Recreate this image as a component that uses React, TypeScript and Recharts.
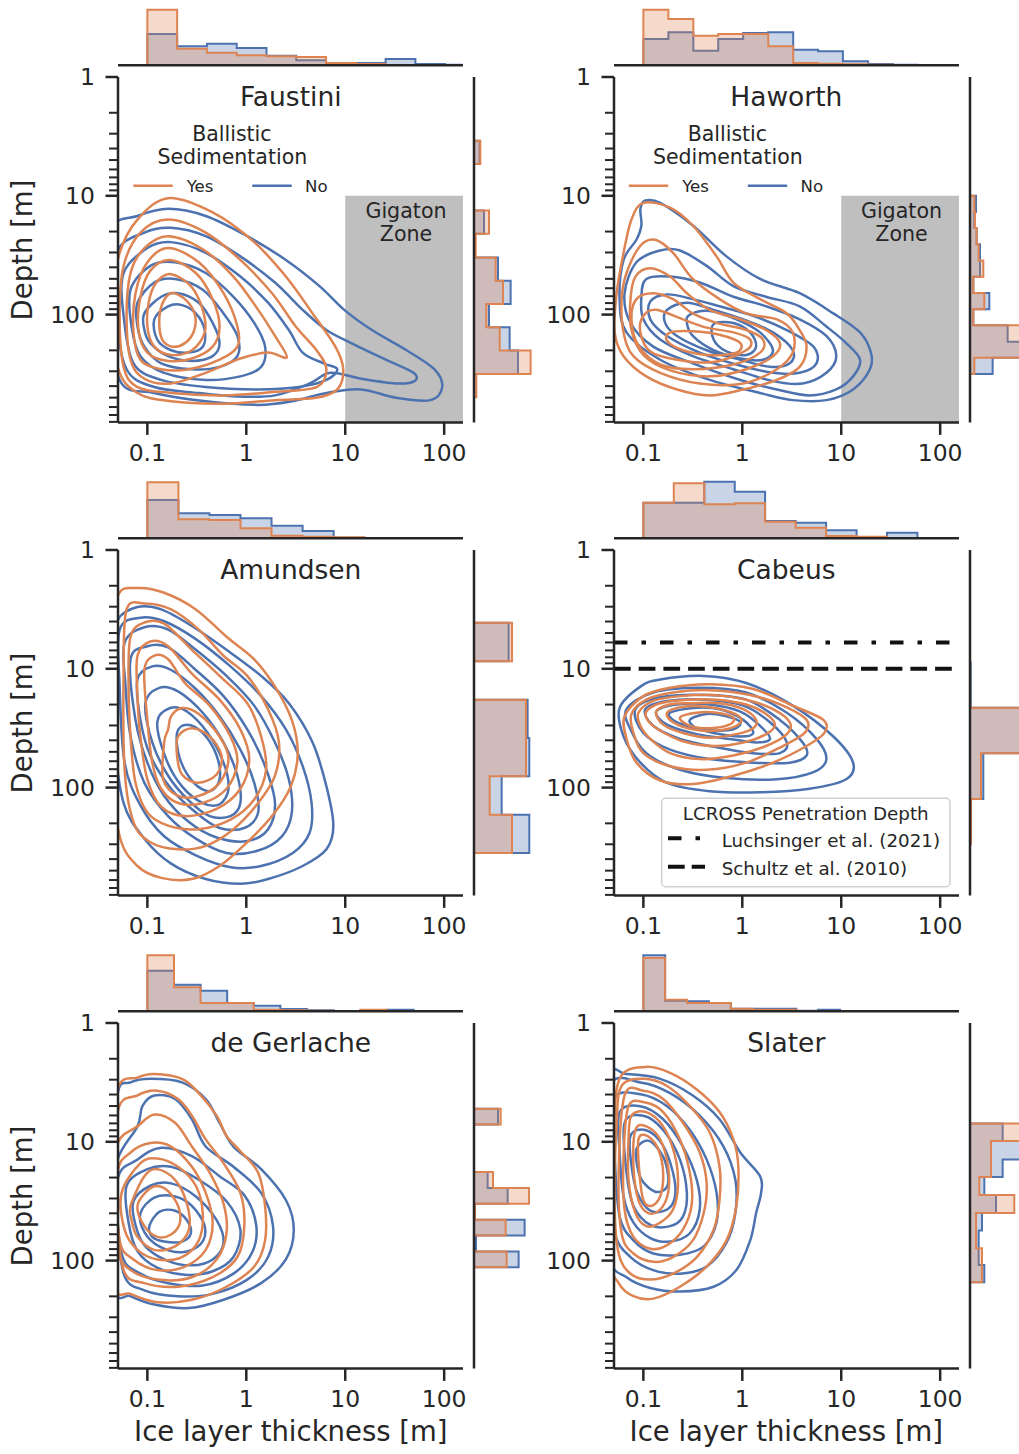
import React from 'react';
import { ComposedChart, Line, Area, XAxis, YAxis, ReferenceArea, ReferenceLine } from 'recharts';

const ORANGE = '#DD8452';
const BLUE = '#4C72B0';
const INK = '#262626';
const FONT = "'DejaVu Sans', sans-serif";

// ---------- axes ----------
const X_DOMAIN = [0.0505, 155];
const Y_DOMAIN = [1, 808];
const X_TICKS = [0.1, 1, 10, 100];
const Y_TICKS = [1, 2, 3, 4, 5, 6, 7, 8, 9, 10, 20, 30, 40, 50, 60, 70, 80, 90, 100, 200, 300, 400, 500, 600, 700, 800];
const Y_MAJOR = [1, 10, 100];
const HIST_MAX = 175;

const CRATERS = ['Faustini', 'Haworth', 'Amundsen', 'Cabeus', 'de Gerlache', 'Slater'];

// ---------- marginal histograms (bin edges in m, heights in relative counts) ----------
const FAU_TOP_EDGES = [0.1, 0.2, 0.4, 0.8, 1.6, 3.2, 6.4, 12.8, 25.6, 51.2, 102, 205];
const FAU_TOP_YES = [167, 50, 38, 30, 27, 25, 7, 4, 0, 0, 0];
const FAU_TOP_NO = [94, 57, 65, 52, 29, 15, 5, 7, 19, 4, 2];
const FAU_RIGHT_EDGES = [3.44, 5.4, 8.49, 13.3, 20.9, 33.0, 51.8, 81.3, 128, 201, 316, 496];
const FAU_RIGHT_YES = [19, 0, 0, 45, 5, 65, 87, 37, 77, 170, 7];
const FAU_RIGHT_NO = [17, 0, 0, 30, 0, 72, 110, 45, 107, 132, 0];

const HAW_TOP_EDGES = [0.1, 0.179, 0.32, 0.571, 1.02, 1.83, 3.27, 5.84, 10.4, 18.7, 33.4, 59.7];
const HAW_TOP_YES = [167, 139, 89, 94, 94, 57, 7, 5, 3, 2, 0];
const HAW_TOP_NO = [79, 99, 44, 79, 97, 99, 47, 42, 12, 4, 2];
const HAW_RIGHT_EDGES = [10, 13.7, 18.7, 25.6, 35.1, 48.0, 65.8, 90.1, 123, 169, 231, 316];
const HAW_RIGHT_YES = [13, 15, 20, 26, 40, 10, 43, 10, 170, 170, 13];
const HAW_RIGHT_NO = [18, 13, 20, 30, 30, 10, 58, 10, 113, 170, 68];

const AMU_TOP_EDGES = [0.1, 0.206, 0.424, 0.874, 1.8, 3.71, 7.64, 15.7, 32.4];
const AMU_TOP_YES = [168, 57, 55, 30, 8, 5, 3, 0];
const AMU_TOP_NO = [115, 75, 70, 60, 38, 22, 2, 1];
const AMU_RIGHT_EDGES = [4.1, 8.63, 18.2, 38.2, 80.4, 169, 356];
const AMU_RIGHT_YES = [114, 0, 156, 156, 47, 114];
const AMU_RIGHT_NO = [104, 0, 161, 166, 83, 166];

const CAB_TOP_EDGES = [0.1, 0.203, 0.413, 0.839, 1.7, 3.46, 7.03, 14.3, 29, 58.9];
const CAB_TOP_YES = [107, 165, 102, 105, 50, 32, 7, 5, 0];
const CAB_TOP_NO = [107, 107, 170, 140, 52, 47, 24, 4, 17];
const CAB_RIGHT_EDGES = [8.79, 21.3, 51.4, 125, 302];
const CAB_RIGHT_YES = [0, 170, 33, 3];
const CAB_RIGHT_NO = [2, 168, 40, 0];

const GER_TOP_EDGES = [0.1, 0.186, 0.345, 0.641, 1.19, 2.21, 4.12, 7.65, 14.2, 26.4, 49.1];
const GER_TOP_YES = [168, 72, 25, 25, 5, 3, 2, 1, 5, 1];
const GER_TOP_NO = [122, 80, 62, 25, 17, 7, 3, 1, 1, 5];
const GER_RIGHT_EDGES = [5.26, 7.16, 9.73, 13.2, 18.0, 24.5, 33.3, 45.3, 61.5, 83.7, 114];
const GER_RIGHT_YES = [80, 0, 0, 0, 57, 165, 3, 95, 0, 98];
const GER_RIGHT_NO = [72, 0, 0, 0, 41, 101, 0, 152, 6, 134];

const SLA_TOP_EDGES = [0.1, 0.166, 0.277, 0.46, 0.765, 1.27, 2.12, 3.52, 5.85, 9.73];
const SLA_TOP_YES = [160, 35, 25, 25, 8, 5, 5, 1, 1];
const SLA_TOP_NO = [168, 32, 30, 25, 8, 8, 8, 2, 5];
const SLA_RIGHT_EDGES = [7.0, 9.86, 14.1, 19.8, 28.1, 39.8, 55.7, 78.7, 109, 152];
const SLA_RIGHT_YES = [170, 63, 63, 28, 133, 18, 18, 36, 36];
const SLA_RIGHT_NO = [98, 170, 98, 43, 78, 36, 26, 26, 43];

// ---------- KDE contour vertices: [log10 thickness (m), log10 depth (m)] ----------
const FAU_YES = [
  [[-0.79,1.02],[-0.34,1.14],[0.08,1.39],[0.40,1.68],[0.67,1.99],[0.90,2.27],[0.98,2.46],[0.92,2.63],[0.71,2.70],[0.29,2.72],[-0.23,2.75],[-0.76,2.73],[-1.10,2.66],[-1.30,2.44],[-1.35,1.87],[-1.28,1.48],[-1.10,1.20]],
  [[-0.79,1.20],[-0.41,1.31],[-0.06,1.54],[0.26,1.82],[0.50,2.10],[0.71,2.30],[0.81,2.46],[0.71,2.61],[0.29,2.65],[-0.23,2.68],[-0.76,2.66],[-1.10,2.61],[-1.24,2.44],[-1.28,2.01],[-1.24,1.59],[-1.07,1.31]],
  [[-0.79,1.34],[-0.44,1.45],[-0.13,1.68],[0.12,1.96],[0.29,2.18],[0.41,2.36],[0.22,2.32],[-0.06,2.37],[-0.41,2.49],[-0.76,2.58],[-1.03,2.54],[-1.17,2.38],[-1.21,2.01],[-1.17,1.65],[-1.03,1.44]],
  [[-0.79,1.44],[-0.48,1.56],[-0.23,1.82],[-0.09,2.10],[-0.09,2.27],[-0.27,2.38],[-0.58,2.46],[-0.86,2.46],[-1.07,2.38],[-1.14,2.15],[-1.12,1.82],[-1.00,1.56]],
  [[-0.77,1.54],[-0.51,1.65],[-0.34,1.87],[-0.27,2.10],[-0.34,2.27],[-0.55,2.37],[-0.79,2.39],[-1.00,2.32],[-1.09,2.13],[-1.07,1.85],[-0.97,1.63]],
  [[-0.76,1.66],[-0.56,1.76],[-0.44,1.96],[-0.42,2.15],[-0.55,2.30],[-0.76,2.34],[-0.93,2.27],[-1.00,2.10],[-0.98,1.87],[-0.90,1.72]],
  [[-0.76,1.82],[-0.62,1.87],[-0.52,2.00],[-0.53,2.14],[-0.62,2.24],[-0.75,2.27],[-0.85,2.21],[-0.88,2.06],[-0.85,1.91]],
];
const FAU_NO = [
  [[-1.35,1.28],[-1.10,1.17],[-0.79,1.11],[-0.41,1.17],[0.01,1.34],[0.40,1.54],[0.74,1.76],[0.99,1.96],[1.27,2.13],[1.62,2.30],[1.90,2.46],[1.98,2.61],[1.86,2.72],[1.51,2.70],[1.16,2.63],[0.81,2.66],[0.46,2.73],[0.12,2.76],[-0.41,2.73],[-0.93,2.66],[-1.28,2.55],[-1.38,1.87]],
  [[-1.31,1.48],[-1.03,1.31],[-0.76,1.27],[-0.41,1.34],[-0.06,1.51],[0.29,1.73],[0.57,1.96],[0.81,2.13],[1.06,2.24],[1.41,2.38],[1.69,2.49],[1.70,2.56],[1.51,2.58],[1.16,2.54],[0.85,2.49],[0.64,2.58],[0.29,2.68],[-0.06,2.69],[-0.48,2.66],[-0.93,2.61],[-1.21,2.46],[-1.31,2.01]],
  [[-1.24,1.65],[-1.00,1.44],[-0.76,1.39],[-0.41,1.48],[-0.06,1.68],[0.22,1.90],[0.43,2.13],[0.57,2.32],[0.78,2.41],[0.92,2.46],[0.81,2.55],[0.53,2.61],[0.12,2.63],[-0.41,2.61],[-0.86,2.55],[-1.14,2.41],[-1.24,2.01]],
  [[-1.17,1.79],[-0.97,1.59],[-0.72,1.56],[-0.41,1.65],[-0.13,1.85],[0.08,2.07],[0.19,2.27],[0.15,2.44],[-0.06,2.52],[-0.41,2.55],[-0.83,2.49],[-1.07,2.35],[-1.16,2.10]],
  [[-1.10,1.90],[-0.93,1.73],[-0.72,1.70],[-0.44,1.79],[-0.23,1.99],[-0.09,2.18],[-0.09,2.35],[-0.27,2.44],[-0.55,2.46],[-0.86,2.41],[-1.03,2.27],[-1.10,2.10]],
  [[-1.03,1.99],[-0.86,1.85],[-0.69,1.82],[-0.48,1.90],[-0.34,2.07],[-0.27,2.24],[-0.34,2.35],[-0.55,2.39],[-0.79,2.35],[-0.97,2.24],[-1.03,2.13]],
  [[-0.93,2.04],[-0.79,1.93],[-0.65,1.92],[-0.51,1.99],[-0.42,2.13],[-0.44,2.27],[-0.58,2.32],[-0.76,2.30],[-0.90,2.21]],
];

const HAW_YES = [
  [[-1.00,1.06],[-0.73,1.10],[-0.50,1.25],[-0.26,1.51],[-0.09,1.73],[0.18,1.87],[0.45,1.99],[0.58,2.13],[0.65,2.27],[0.58,2.44],[0.35,2.55],[0.01,2.63],[-0.33,2.68],[-0.66,2.63],[-0.97,2.52],[-1.20,2.35],[-1.29,2.15],[-1.27,1.82],[-1.20,1.48],[-1.12,1.20]],
  [[-0.88,1.37],[-0.70,1.48],[-0.50,1.70],[-0.23,1.87],[0.04,1.99],[0.35,2.04],[0.51,2.15],[0.51,2.32],[0.35,2.46],[0.01,2.58],[-0.43,2.58],[-0.83,2.49],[-1.10,2.35],[-1.20,2.15],[-1.22,1.87],[-1.17,1.65],[-1.03,1.42]],
  [[-0.93,1.61],[-0.73,1.68],[-0.56,1.82],[-0.33,1.96],[-0.02,2.04],[0.24,2.13],[0.38,2.24],[0.31,2.35],[0.04,2.46],[-0.33,2.52],[-0.73,2.47],[-1.00,2.34],[-1.12,2.13],[-1.13,1.87],[-1.08,1.68]],
  [[-0.90,1.82],[-0.70,1.87],[-0.50,1.99],[-0.26,2.07],[0.04,2.13],[0.21,2.21],[0.18,2.32],[-0.09,2.42],[-0.50,2.46],[-0.83,2.42],[-1.05,2.26],[-1.12,2.04],[-1.07,1.87]],
  [[-0.87,1.96],[-0.60,2.04],[-0.36,2.11],[-0.09,2.15],[0.08,2.21],[0.04,2.30],[-0.29,2.40],[-0.66,2.38],[-0.93,2.31],[-1.03,2.15],[-1.00,2.01]],
  [[-0.73,2.15],[-0.50,2.14],[-0.23,2.17],[-0.02,2.24],[-0.06,2.32],[-0.33,2.34],[-0.60,2.30],[-0.76,2.22]],
];
const HAW_NO = [
  [[-1.03,1.11],[-0.98,1.04],[-0.83,1.06],[-0.50,1.25],[-0.16,1.51],[0.18,1.70],[0.58,1.82],[0.92,1.99],[1.19,2.15],[1.30,2.32],[1.29,2.46],[1.12,2.63],[0.85,2.72],[0.51,2.72],[0.18,2.66],[-0.33,2.55],[-0.83,2.38],[-1.17,2.15],[-1.24,1.87],[-1.20,1.54],[-1.07,1.37],[-1.02,1.25]],
  [[-1.07,1.56],[-0.83,1.46],[-0.63,1.46],[-0.36,1.59],[-0.09,1.76],[0.24,1.85],[0.58,1.93],[0.85,2.10],[1.05,2.24],[1.19,2.38],[1.12,2.52],[0.95,2.63],[0.68,2.68],[0.35,2.63],[-0.02,2.55],[-0.50,2.41],[-0.90,2.27],[-1.13,2.07],[-1.19,1.82]],
  [[-0.97,1.70],[-0.73,1.68],[-0.43,1.73],[-0.09,1.85],[0.24,1.93],[0.58,2.04],[0.85,2.18],[0.95,2.35],[0.85,2.49],[0.61,2.58],[0.31,2.56],[-0.09,2.46],[-0.50,2.35],[-0.83,2.21],[-1.00,2.04],[-1.02,1.85]],
  [[-0.93,1.89],[-0.76,1.83],[-0.50,1.87],[-0.23,1.93],[0.11,2.01],[0.45,2.13],[0.72,2.27],[0.75,2.41],[0.58,2.49],[0.31,2.49],[-0.06,2.42],[-0.43,2.32],[-0.76,2.18],[-0.93,2.04]],
  [[-0.76,1.96],[-0.56,1.90],[-0.29,1.96],[0.01,2.04],[0.31,2.15],[0.51,2.30],[0.48,2.41],[0.28,2.44],[-0.02,2.38],[-0.36,2.30],[-0.66,2.18],[-0.78,2.07]],
  [[-0.53,2.00],[-0.33,1.97],[-0.06,2.04],[0.18,2.15],[0.31,2.30],[0.21,2.38],[-0.02,2.37],[-0.29,2.30],[-0.50,2.18],[-0.56,2.07]],
  [[-0.29,2.08],[-0.09,2.07],[0.08,2.15],[0.14,2.27],[0.04,2.34],[-0.16,2.31],[-0.29,2.21]],
];

const AMU_YES = [
  [[-1.30,0.39],[-1.10,0.32],[-0.83,0.36],[-0.51,0.50],[-0.20,0.73],[0.08,0.92],[0.29,1.15],[0.46,1.43],[0.52,1.71],[0.45,1.99],[0.26,2.24],[0.01,2.46],[-0.27,2.66],[-0.55,2.77],[-0.86,2.76],[-1.10,2.66],[-1.28,2.41],[-1.36,1.80],[-1.36,0.90]],
  [[-1.24,1.01],[-1.21,0.50],[-1.03,0.45],[-0.76,0.50],[-0.48,0.67],[-0.23,0.89],[0.01,1.06],[0.22,1.34],[0.33,1.62],[0.29,1.90],[0.12,2.13],[-0.13,2.35],[-0.41,2.49],[-0.69,2.52],[-0.97,2.46],[-1.14,2.29],[-1.23,1.85]],
  [[-1.17,0.73],[-1.03,0.61],[-0.83,0.62],[-0.55,0.84],[-0.27,1.06],[0.01,1.29],[0.15,1.57],[0.20,1.85],[0.08,2.10],[-0.16,2.27],[-0.48,2.35],[-0.79,2.32],[-1.00,2.21],[-1.12,1.96],[-1.17,1.57],[-1.19,1.12]],
  [[-1.10,0.89],[-0.97,0.77],[-0.79,0.81],[-0.55,1.04],[-0.27,1.26],[-0.06,1.51],[0.03,1.76],[-0.06,2.01],[-0.30,2.18],[-0.62,2.24],[-0.86,2.16],[-1.00,1.93],[-1.07,1.57],[-1.10,1.23]],
  [[-1.03,1.01],[-0.93,0.89],[-0.79,0.92],[-0.62,1.12],[-0.37,1.31],[-0.16,1.57],[-0.09,1.79],[-0.20,2.01],[-0.44,2.13],[-0.69,2.13],[-0.86,2.01],[-0.95,1.79],[-1.00,1.43]],
  [[-0.79,1.51],[-0.76,1.40],[-0.65,1.33],[-0.48,1.38],[-0.27,1.57],[-0.18,1.76],[-0.27,1.96],[-0.48,2.07],[-0.69,2.07],[-0.84,1.93],[-0.83,1.62]],
  [[-0.69,1.57],[-0.55,1.50],[-0.37,1.57],[-0.25,1.73],[-0.30,1.89],[-0.49,1.96],[-0.65,1.89],[-0.70,1.73]],
];
const AMU_NO = [
  [[-1.30,0.59],[-1.10,0.48],[-0.86,0.50],[-0.55,0.64],[-0.20,0.84],[0.15,1.06],[0.43,1.29],[0.67,1.62],[0.81,1.99],[0.88,2.32],[0.81,2.52],[0.57,2.66],[0.22,2.77],[-0.06,2.81],[-0.41,2.77],[-0.76,2.64],[-1.03,2.43],[-1.24,2.13],[-1.33,1.57],[-1.33,0.87]],
  [[-1.28,0.67],[-1.07,0.57],[-0.83,0.60],[-0.51,0.75],[-0.16,0.98],[0.15,1.23],[0.40,1.51],[0.57,1.82],[0.66,2.13],[0.64,2.38],[0.47,2.55],[0.15,2.66],[-0.16,2.67],[-0.51,2.57],[-0.83,2.41],[-1.07,2.15],[-1.23,1.79],[-1.28,1.15]],
  [[-1.23,0.78],[-1.03,0.65],[-0.79,0.67],[-0.51,0.84],[-0.20,1.06],[0.08,1.31],[0.29,1.62],[0.43,1.93],[0.46,2.21],[0.36,2.41],[0.12,2.53],[-0.20,2.55],[-0.51,2.43],[-0.79,2.24],[-1.03,1.96],[-1.17,1.57],[-1.22,1.15]],
  [[-1.17,0.92],[-1.00,0.81],[-0.79,0.82],[-0.51,1.01],[-0.23,1.23],[0.01,1.51],[0.19,1.82],[0.29,2.13],[0.22,2.35],[0.01,2.45],[-0.30,2.42],[-0.58,2.29],[-0.83,2.07],[-1.00,1.79],[-1.12,1.43]],
  [[-1.10,1.09],[-0.95,0.98],[-0.76,1.01],[-0.51,1.17],[-0.27,1.40],[-0.06,1.68],[0.08,1.96],[0.12,2.21],[-0.02,2.34],[-0.27,2.34],[-0.51,2.21],[-0.76,2.01],[-0.97,1.73],[-1.07,1.43]],
  [[-1.02,1.29],[-0.88,1.16],[-0.69,1.19],[-0.44,1.37],[-0.23,1.62],[-0.09,1.90],[-0.06,2.13],[-0.16,2.24],[-0.37,2.24],[-0.58,2.11],[-0.79,1.90],[-0.95,1.62]],
  [[-0.90,1.45],[-0.77,1.33],[-0.60,1.36],[-0.39,1.54],[-0.23,1.79],[-0.18,2.01],[-0.27,2.14],[-0.44,2.13],[-0.65,1.99],[-0.81,1.76]],
  [[-0.70,1.54],[-0.60,1.47],[-0.44,1.54],[-0.30,1.73],[-0.27,1.93],[-0.37,2.03],[-0.53,1.96],[-0.67,1.76]],
];

const CAB_YES = [
  [[-1.19,1.40],[-1.00,1.23],[-0.73,1.16],[-0.33,1.13],[0.11,1.17],[0.51,1.31],[0.82,1.43],[0.83,1.54],[0.65,1.65],[0.31,1.79],[-0.09,1.90],[-0.50,1.97],[-0.83,1.94],[-1.07,1.79],[-1.17,1.59]],
  [[-1.12,1.38],[-0.97,1.26],[-0.70,1.20],[-0.33,1.18],[0.08,1.22],[0.41,1.31],[0.65,1.43],[0.63,1.54],[0.41,1.65],[0.04,1.79],[-0.36,1.85],[-0.73,1.82],[-1.00,1.71],[-1.10,1.54]],
  [[-1.05,1.37],[-0.90,1.27],[-0.63,1.23],[-0.29,1.22],[0.04,1.26],[0.31,1.34],[0.48,1.45],[0.45,1.55],[0.24,1.65],[-0.09,1.73],[-0.43,1.76],[-0.73,1.71],[-0.93,1.59],[-1.03,1.48]],
  [[-0.97,1.36],[-0.83,1.29],[-0.56,1.26],[-0.26,1.26],[0.04,1.30],[0.24,1.38],[0.33,1.47],[0.24,1.55],[0.01,1.62],[-0.29,1.65],[-0.60,1.61],[-0.83,1.52],[-0.95,1.44]],
  [[-0.87,1.36],[-0.73,1.30],[-0.50,1.29],[-0.23,1.29],[0.01,1.34],[0.14,1.43],[0.11,1.50],[-0.06,1.55],[-0.33,1.58],[-0.60,1.54],[-0.80,1.47]],
  [[-0.76,1.37],[-0.60,1.32],[-0.36,1.32],[-0.13,1.36],[-0.01,1.42],[-0.06,1.48],[-0.26,1.52],[-0.50,1.51],[-0.70,1.45]],
  [[-0.63,1.41],[-0.46,1.37],[-0.26,1.37],[-0.09,1.41],[-0.13,1.47],[-0.33,1.50],[-0.53,1.48]],
];
const CAB_NO = [
  [[-1.24,1.33],[-1.03,1.15],[-0.83,1.09],[-0.39,1.06],[0.04,1.12],[0.51,1.31],[0.92,1.57],[1.12,1.79],[1.05,1.93],[0.68,2.01],[0.18,2.04],[-0.33,2.03],[-0.76,1.96],[-1.03,1.79],[-1.20,1.57]],
  [[-1.17,1.34],[-0.90,1.20],[-0.43,1.16],[0.04,1.20],[0.45,1.37],[0.75,1.59],[0.85,1.76],[0.72,1.87],[0.35,1.93],[-0.16,1.92],[-0.63,1.85],[-0.97,1.71],[-1.13,1.51]],
  [[-1.08,1.34],[-0.83,1.24],[-0.39,1.22],[0.04,1.26],[0.38,1.43],[0.61,1.62],[0.65,1.73],[0.48,1.79],[0.11,1.79],[-0.33,1.76],[-0.73,1.68],[-1.00,1.54]],
  [[-0.98,1.34],[-0.76,1.27],[-0.36,1.26],[0.01,1.31],[0.28,1.45],[0.45,1.62],[0.38,1.71],[0.11,1.71],[-0.26,1.66],[-0.63,1.59],[-0.90,1.48]],
  [[-0.87,1.36],[-0.66,1.30],[-0.33,1.30],[-0.02,1.36],[0.18,1.48],[0.28,1.59],[0.14,1.62],[-0.13,1.59],[-0.46,1.55],[-0.76,1.47]],
  [[-0.73,1.37],[-0.50,1.33],[-0.23,1.34],[0.01,1.43],[0.11,1.54],[-0.02,1.57],[-0.29,1.54],[-0.56,1.48],[-0.70,1.43]],
  [[-0.53,1.43],[-0.36,1.38],[-0.16,1.40],[-0.02,1.45],[-0.09,1.51],[-0.29,1.52],[-0.46,1.50]],
];

const GER_YES = [
  [[-1.35,1.26],[-1.30,0.56],[-1.10,0.46],[-0.93,0.43],[-0.65,0.47],[-0.48,0.59],[-0.30,0.78],[-0.20,0.95],[-0.06,1.08],[0.12,1.26],[0.19,1.54],[0.19,1.83],[0.08,2.05],[-0.20,2.22],[-0.55,2.33],[-0.90,2.35],[-1.17,2.28],[-1.33,2.19]],
  [[-1.31,1.54],[-1.30,0.75],[-1.10,0.61],[-0.90,0.57],[-0.69,0.64],[-0.55,0.78],[-0.41,0.98],[-0.23,1.18],[-0.06,1.43],[-0.02,1.71],[-0.09,1.97],[-0.34,2.14],[-0.69,2.22],[-1.03,2.19],[-1.24,2.08]],
  [[-1.35,1.40],[-1.30,1.01],[-1.10,0.87],[-0.93,0.77],[-0.72,0.84],[-0.55,1.04],[-0.37,1.26],[-0.23,1.52],[-0.20,1.77],[-0.30,1.99],[-0.55,2.14],[-0.90,2.16],[-1.17,2.08],[-1.30,1.91]],
  [[-1.30,1.26],[-1.17,1.09],[-0.97,1.01],[-0.76,1.04],[-0.55,1.21],[-0.41,1.43],[-0.34,1.68],[-0.41,1.91],[-0.62,2.05],[-0.90,2.08],[-1.14,1.99],[-1.28,1.83]],
  [[-1.26,1.43],[-1.07,1.18],[-0.90,1.14],[-0.69,1.21],[-0.51,1.37],[-0.44,1.60],[-0.48,1.83],[-0.65,1.97],[-0.90,1.99],[-1.10,1.91],[-1.23,1.74]],
  [[-1.17,1.54],[-1.03,1.29],[-0.90,1.23],[-0.72,1.32],[-0.60,1.52],[-0.58,1.74],[-0.72,1.88],[-0.93,1.91],[-1.10,1.80],[-1.16,1.66]],
  [[-1.10,1.54],[-0.97,1.39],[-0.83,1.39],[-0.70,1.52],[-0.67,1.68],[-0.76,1.78],[-0.90,1.80],[-1.03,1.71]],
];
const GER_NO = [
  [[-1.35,1.26],[-1.30,0.59],[-1.17,0.50],[-0.97,0.47],[-0.65,0.50],[-0.41,0.64],[-0.27,0.84],[-0.13,1.04],[0.15,1.23],[0.40,1.49],[0.48,1.74],[0.40,1.99],[0.15,2.19],[-0.23,2.33],[-0.58,2.40],[-0.93,2.37],[-1.17,2.30],[-1.33,2.22]],
  [[-1.31,1.54],[-1.30,1.15],[-1.10,0.87],[-1.05,0.70],[-0.93,0.61],[-0.72,0.64],[-0.55,0.81],[-0.41,1.04],[-0.13,1.21],[0.15,1.43],[0.27,1.71],[0.22,1.97],[0.01,2.16],[-0.34,2.28],[-0.69,2.30],[-1.03,2.25],[-1.24,2.11]],
  [[-1.30,1.32],[-1.10,1.15],[-0.86,1.05],[-0.55,1.12],[-0.27,1.29],[-0.02,1.45],[0.10,1.70],[0.06,1.93],[-0.13,2.11],[-0.44,2.21],[-0.79,2.19],[-1.07,2.11],[-1.26,1.94]],
  [[-1.21,1.37],[-1.00,1.23],[-0.76,1.21],[-0.48,1.32],[-0.20,1.50],[-0.06,1.74],[-0.13,1.97],[-0.34,2.09],[-0.62,2.12],[-0.90,2.06],[-1.10,1.92],[-1.19,1.68]],
  [[-1.14,1.50],[-0.97,1.37],[-0.76,1.35],[-0.51,1.46],[-0.30,1.66],[-0.23,1.85],[-0.34,1.99],[-0.55,2.04],[-0.80,2.00],[-1.02,1.88],[-1.12,1.70]],
  [[-1.07,1.60],[-0.93,1.47],[-0.72,1.46],[-0.55,1.54],[-0.42,1.71],[-0.46,1.86],[-0.65,1.93],[-0.88,1.88],[-1.03,1.76]],
  [[-0.98,1.71],[-0.88,1.59],[-0.72,1.58],[-0.60,1.66],[-0.56,1.77],[-0.65,1.84],[-0.83,1.84],[-0.95,1.80]],
];

const SLA_YES = [
  [[-1.30,0.98],[-1.24,0.47],[-0.98,0.37],[-0.73,0.42],[-0.46,0.56],[-0.23,0.75],[-0.09,0.98],[-0.04,1.21],[-0.06,1.54],[-0.16,1.83],[-0.36,2.05],[-0.63,2.22],[-0.90,2.32],[-1.10,2.30],[-1.25,2.19],[-1.32,1.97]],
  [[-1.27,0.84],[-1.22,0.53],[-1.00,0.47],[-0.76,0.53],[-0.53,0.70],[-0.33,0.92],[-0.23,1.21],[-0.23,1.49],[-0.29,1.74],[-0.46,1.97],[-0.70,2.11],[-0.93,2.16],[-1.13,2.11],[-1.25,1.94],[-1.29,1.54]],
  [[-1.25,1.26],[-1.19,0.61],[-1.00,0.57],[-0.80,0.64],[-0.60,0.84],[-0.43,1.09],[-0.36,1.35],[-0.39,1.60],[-0.50,1.83],[-0.70,1.97],[-0.90,2.01],[-1.10,1.94],[-1.22,1.77]],
  [[-1.20,1.12],[-1.15,0.70],[-0.98,0.67],[-0.80,0.75],[-0.63,0.98],[-0.53,1.26],[-0.51,1.52],[-0.60,1.74],[-0.76,1.87],[-0.93,1.90],[-1.10,1.80],[-1.19,1.57]],
  [[-1.15,0.98],[-1.12,0.78],[-0.97,0.75],[-0.80,0.87],[-0.68,1.12],[-0.65,1.37],[-0.70,1.57],[-0.83,1.68],[-0.97,1.71],[-1.08,1.60],[-1.15,1.32]],
  [[-1.10,1.21],[-1.08,0.90],[-0.97,0.87],[-0.83,0.98],[-0.75,1.21],[-0.75,1.43],[-0.83,1.57],[-0.95,1.60],[-1.05,1.49]],
  [[-1.04,1.26],[-1.05,0.98],[-0.96,0.95],[-0.85,1.06],[-0.80,1.26],[-0.83,1.46],[-0.92,1.54],[-1.00,1.49]],
];
const SLA_NO = [
  [[-1.34,0.45],[-1.17,0.43],[-0.83,0.47],[-0.50,0.61],[-0.23,0.81],[-0.02,1.09],[0.18,1.29],[0.19,1.43],[0.14,1.60],[0.08,1.83],[-0.06,2.08],[-0.29,2.22],[-0.63,2.26],[-0.93,2.23],[-1.17,2.14],[-1.34,1.97],[-1.40,1.20]],
  [[-1.34,0.53],[-1.03,0.50],[-0.73,0.59],[-0.43,0.78],[-0.19,1.04],[-0.07,1.32],[-0.07,1.60],[-0.16,1.85],[-0.36,2.05],[-0.63,2.11],[-0.90,2.08],[-1.13,1.97],[-1.29,1.77],[-1.36,1.26]],
  [[-1.30,0.64],[-1.03,0.60],[-0.76,0.70],[-0.53,0.90],[-0.36,1.15],[-0.26,1.43],[-0.26,1.68],[-0.39,1.88],[-0.63,1.95],[-0.90,1.94],[-1.10,1.83],[-1.24,1.63],[-1.29,1.12]],
  [[-1.24,0.75],[-1.03,0.70],[-0.80,0.81],[-0.60,1.04],[-0.46,1.32],[-0.43,1.57],[-0.53,1.77],[-0.73,1.84],[-0.93,1.81],[-1.10,1.68],[-1.20,1.46],[-1.24,1.09]],
  [[-1.19,0.84],[-1.00,0.78],[-0.80,0.90],[-0.63,1.15],[-0.56,1.43],[-0.60,1.63],[-0.73,1.71],[-0.93,1.70],[-1.10,1.54],[-1.17,1.26]],
  [[-1.13,0.95],[-0.98,0.90],[-0.81,1.02],[-0.70,1.26],[-0.68,1.46],[-0.76,1.57],[-0.93,1.58],[-1.06,1.43],[-1.12,1.20]],
  [[-1.07,1.06],[-0.95,0.99],[-0.81,1.11],[-0.75,1.28],[-0.77,1.39],[-0.88,1.42],[-1.01,1.33],[-1.06,1.21]],
];

// reference depths (m)
const GIGATON_MIN_THICKNESS = 10;
const GIGATON_MIN_DEPTH = 10;
const LUCHSINGER_DEPTH = 6;
const SCHULTZ_DEPTH = 10;

// ---------- layout ----------
const PANEL_LEFT = [118.3, 613.8];
const PANEL_TOP = [77.3, 550.3, 1023.3];
const PW = 345;
const PH = 345.4;
const YAXIS_W = 80;
const XAXIS_H = 50;
const PAD_T = 16;
const PAD_R = 30;
const HIST_H = 58.3;
const HIST_GAP_TOP = 11.6;
const HIST_GAP_RIGHT = 11;

const PANELS = [
  { name: CRATERS[0], yes: FAU_YES, no: FAU_NO, tE: FAU_TOP_EDGES, tY: FAU_TOP_YES, tN: FAU_TOP_NO, rE: FAU_RIGHT_EDGES, rY: FAU_RIGHT_YES, rN: FAU_RIGHT_NO, gigaton: true, legend: true },
  { name: CRATERS[1], yes: HAW_YES, no: HAW_NO, tE: HAW_TOP_EDGES, tY: HAW_TOP_YES, tN: HAW_TOP_NO, rE: HAW_RIGHT_EDGES, rY: HAW_RIGHT_YES, rN: HAW_RIGHT_NO, gigaton: true, legend: true },
  { name: CRATERS[2], yes: AMU_YES, no: AMU_NO, tE: AMU_TOP_EDGES, tY: AMU_TOP_YES, tN: AMU_TOP_NO, rE: AMU_RIGHT_EDGES, rY: AMU_RIGHT_YES, rN: AMU_RIGHT_NO },
  { name: CRATERS[3], yes: CAB_YES, no: CAB_NO, tE: CAB_TOP_EDGES, tY: CAB_TOP_YES, tN: CAB_TOP_NO, rE: CAB_RIGHT_EDGES, rY: CAB_RIGHT_YES, rN: CAB_RIGHT_NO, lcross: true },
  { name: CRATERS[4], yes: GER_YES, no: GER_NO, tE: GER_TOP_EDGES, tY: GER_TOP_YES, tN: GER_TOP_NO, rE: GER_RIGHT_EDGES, rY: GER_RIGHT_YES, rN: GER_RIGHT_NO },
  { name: CRATERS[5], yes: SLA_YES, no: SLA_NO, tE: SLA_TOP_EDGES, tY: SLA_TOP_YES, tN: SLA_TOP_NO, rE: SLA_RIGHT_EDGES, rY: SLA_RIGHT_YES, rN: SLA_RIGHT_NO },
];

// closed smooth curve (Catmull-Rom) for contour rings
const closedSmooth: any = (context: any) => {
  let pts: number[][] = [];
  return {
    areaStart() {},
    areaEnd() {},
    lineStart() { pts = []; },
    point(x: number, y: number) { pts.push([+x, +y]); },
    lineEnd() {
      const n = pts.length;
      if (!n) return;
      context.moveTo(pts[0][0], pts[0][1]);
      for (let i = 0; i < n; i++) {
        const p0 = pts[(i - 1 + n) % n];
        const p1 = pts[i];
        const p2 = pts[(i + 1) % n];
        const p3 = pts[(i + 2) % n];
        context.bezierCurveTo(
          p1[0] + (p2[0] - p0[0]) / 6, p1[1] + (p2[1] - p0[1]) / 6,
          p2[0] - (p3[0] - p1[0]) / 6, p2[1] - (p3[1] - p1[1]) / 6,
          p2[0], p2[1]
        );
      }
      context.closePath();
    },
  };
};

const toPts = (ring: number[][]) => ring.map(([a, b]) => ({ x: Math.pow(10, a), y: Math.pow(10, b) }));

function stepRows(key: string, edges: number[], yes: number[], no: number[]) {
  const rows: any[] = [{ [key]: edges[0], o: 0, b: 0 }];
  for (let i = 0; i < yes.length; i++) {
    rows.push({ [key]: edges[i], o: yes[i], b: no[i] });
    rows.push({ [key]: edges[i + 1], o: yes[i], b: no[i] });
  }
  rows.push({ [key]: edges[yes.length], o: 0, b: 0 });
  return rows;
}

const YTick = (props: any) => {
  const { y, payload } = props;
  const v = payload.value;
  const major = Y_MAJOR.includes(v);
  return (
    <g>
      <line x1={YAXIS_W - (major ? 12.5 : 9)} x2={YAXIS_W} y1={y} y2={y} stroke={INK} strokeWidth={major ? 2.5 : 2} />
      {major && (
        <text x={YAXIS_W - 23} y={y} dy="0.36em" textAnchor="end" fontSize={23.5} fill={INK} fontFamily={FONT}>
          {String(v)}
        </text>
      )}
    </g>
  );
};

const XTick = (props: any) => {
  const { x, payload } = props;
  return (
    <g>
      <line x1={x} x2={x} y1={PAD_T + PH} y2={PAD_T + PH + 12.5} stroke={INK} strokeWidth={2.5} />
      <text x={x} y={PAD_T + PH + 39} textAnchor="middle" fontSize={23.5} fill={INK} fontFamily={FONT}>
        {String(payload.value)}
      </text>
    </g>
  );
};

function Panel({ p, left, top }: any) {
  const topRows = stepRows('x', p.tE, p.tY, p.tN);
  const rightRows = stepRows('y', p.rE, p.rY, p.rN);
  return (
    <>
      {/* top marginal histogram */}
      <div style={{ position: 'absolute', left, top: top - HIST_GAP_TOP - HIST_H, width: PW, height: HIST_H + 2 }}>
        <ComposedChart width={PW} height={HIST_H + 2} data={topRows} margin={{ top: 0, right: 0, bottom: 2, left: 0 }}>
          <XAxis type="number" dataKey="x" scale="log" domain={X_DOMAIN} allowDataOverflow hide />
          <YAxis type="number" domain={[0, HIST_MAX]} allowDataOverflow hide />
          <Area dataKey="b" type="linear" stroke={BLUE} strokeWidth={2} fill={BLUE} fillOpacity={0.3} dot={false} activeDot={false} isAnimationActive={false} />
          <Area dataKey="o" type="linear" stroke={ORANGE} strokeWidth={2} fill={ORANGE} fillOpacity={0.3} dot={false} activeDot={false} isAnimationActive={false} />
          <ReferenceLine y={0} stroke={INK} strokeWidth={2.5} />
        </ComposedChart>
      </div>
      {/* right marginal histogram (vertical layout: depth increases downward) */}
      <div style={{ position: 'absolute', left: left + PW + HIST_GAP_RIGHT - 2, top, width: HIST_H + 2, height: PH }}>
        <ComposedChart layout="vertical" width={HIST_H + 2} height={PH} data={rightRows} margin={{ top: 0, right: 0, bottom: 0, left: 2 }}>
          <XAxis type="number" domain={[0, HIST_MAX]} allowDataOverflow hide />
          <YAxis type="number" dataKey="y" scale="log" domain={Y_DOMAIN} allowDataOverflow hide />
          <Area dataKey="b" type="linear" stroke={BLUE} strokeWidth={2} fill={BLUE} fillOpacity={0.3} dot={false} activeDot={false} isAnimationActive={false} />
          <Area dataKey="o" type="linear" stroke={ORANGE} strokeWidth={2} fill={ORANGE} fillOpacity={0.3} dot={false} activeDot={false} isAnimationActive={false} />
          <ReferenceLine x={0} stroke={INK} strokeWidth={2.5} />
        </ComposedChart>
      </div>
      {/* joint KDE */}
      <div style={{ position: 'absolute', left: left - YAXIS_W, top: top - PAD_T, width: YAXIS_W + PW + PAD_R, height: PAD_T + PH + XAXIS_H }}>
        <ComposedChart width={YAXIS_W + PW + PAD_R} height={PAD_T + PH + XAXIS_H} margin={{ top: PAD_T, right: PAD_R, bottom: 0, left: 0 }}>
          <XAxis type="number" dataKey="x" scale="log" domain={X_DOMAIN} allowDataOverflow ticks={X_TICKS} interval={0}
            tick={XTick} tickLine={false} axisLine={{ stroke: INK, strokeWidth: 2.5 }} height={XAXIS_H} />
          <YAxis type="number" dataKey="y" scale="log" domain={Y_DOMAIN} reversed allowDataOverflow ticks={Y_TICKS} interval={0}
            tick={YTick} tickLine={false} axisLine={{ stroke: INK, strokeWidth: 2.5 }} width={YAXIS_W} />
          {p.gigaton && (
            <ReferenceArea x1={GIGATON_MIN_THICKNESS} x2={X_DOMAIN[1]} y1={GIGATON_MIN_DEPTH} y2={Y_DOMAIN[1]}
              fill="#bfbfbf" fillOpacity={1} stroke="none" ifOverflow="hidden" />
          )}
          {p.lcross && (
            <ReferenceLine y={LUCHSINGER_DEPTH} stroke="#111111" strokeWidth={4} strokeDasharray="13.5 14 4.5 14" />
          )}
          {p.lcross && (
            <ReferenceLine y={SCHULTZ_DEPTH} stroke="#111111" strokeWidth={4} strokeDasharray="16.7 8" />
          )}
          {p.no.map((ring: number[][], i: number) => (
            <Line key={'b' + i} data={toPts(ring)} dataKey="y" type={closedSmooth} stroke={BLUE} strokeWidth={2.5}
              dot={false} activeDot={false} isAnimationActive={false} />
          ))}
          {p.yes.map((ring: number[][], i: number) => (
            <Line key={'o' + i} data={toPts(ring)} dataKey="y" type={closedSmooth} stroke={ORANGE} strokeWidth={2.5}
              dot={false} activeDot={false} isAnimationActive={false} />
          ))}
        </ComposedChart>
      </div>
    </>
  );
}

function Overlay() {
  const t = { fill: INK, fontFamily: FONT } as any;
  return (
    <svg width={1019} height={1454} style={{ position: 'absolute', left: 0, top: 0, pointerEvents: 'none' }}>
      {PANELS.map((p, i) => {
        const L = PANEL_LEFT[i % 2];
        const T = PANEL_TOP[Math.floor(i / 2)];
        return (
          <g key={i}>
            <text x={L + PW / 2} y={T + 28.7} textAnchor="middle" fontSize={26.5} {...t}>{p.name}</text>
            {p.legend && (
              <g>
                <text x={L + 113.6} y={T + 63.4} textAnchor="middle" fontSize={20.5} {...t}>Ballistic</text>
                <text x={L + 114} y={T + 87} textAnchor="middle" fontSize={20.5} {...t}>Sedimentation</text>
                <line x1={L + 15} x2={L + 54.4} y1={T + 108.4} y2={T + 108.4} stroke={ORANGE} strokeWidth={2.5} />
                <text x={L + 68.4} y={T + 114.4} fontSize={16.6} {...t}>Yes</text>
                <line x1={L + 134} x2={L + 173.4} y1={T + 108.4} y2={T + 108.4} stroke={BLUE} strokeWidth={2.5} />
                <text x={L + 186.7} y={T + 114.4} fontSize={16.6} {...t}>No</text>
              </g>
            )}
            {p.gigaton && (
              <g>
                <text x={L + 287.7} y={T + 140.7} textAnchor="middle" fontSize={20.6} {...t}>Gigaton</text>
                <text x={L + 287.7} y={T + 163.4} textAnchor="middle" fontSize={20.6} {...t}>Zone</text>
              </g>
            )}
            {p.lcross && (
              <g>
                <rect x={L + 47.9} y={T + 248} width={288.3} height={88.4} rx={4} fill="#ffffff" fillOpacity={0.85} stroke="#d0d0d0" strokeWidth={1.5} />
                <text x={L + 191.9} y={T + 269.7} textAnchor="middle" fontSize={18.3} {...t}>LCROSS Penetration Depth</text>
                <line x1={L + 54.2} x2={L + 91.2} y1={T + 288} y2={T + 288} stroke="#111111" strokeWidth={4} strokeDasharray="13.5 14 4.5 14" />
                <text x={L + 107.9} y={T + 296.4} fontSize={18.3} {...t}>Luchsinger et al. (2021)</text>
                <line x1={L + 54.2} x2={L + 91.2} y1={T + 316.4} y2={T + 316.4} stroke="#111111" strokeWidth={4} strokeDasharray="16.7 7" />
                <text x={L + 107.9} y={T + 324.7} fontSize={18.3} {...t}>Schultz et al. (2010)</text>
              </g>
            )}
          </g>
        );
      })}
      {PANEL_TOP.map((T, r) => (
        <text key={'yl' + r} transform={`translate(32, ${T + PH / 2}) rotate(-90)`} textAnchor="middle" fontSize={27.5} {...t}>
          Depth [m]
        </text>
      ))}
      {PANEL_LEFT.map((L, c) => (
        <text key={'xl' + c} x={L + PW / 2} y={1441} textAnchor="middle" fontSize={27.5} {...t}>
          Ice layer thickness [m]
        </text>
      ))}
    </svg>
  );
}

export default function App() {
  return (
    <div style={{ position: 'absolute', left: 0, top: 0, width: 1019, height: 1454, overflow: 'hidden', background: '#ffffff' }}>
      {PANELS.map((p, i) => (
        <Panel key={i} p={p} left={PANEL_LEFT[i % 2]} top={PANEL_TOP[Math.floor(i / 2)]} />
      ))}
      <Overlay />
    </div>
  );
}
